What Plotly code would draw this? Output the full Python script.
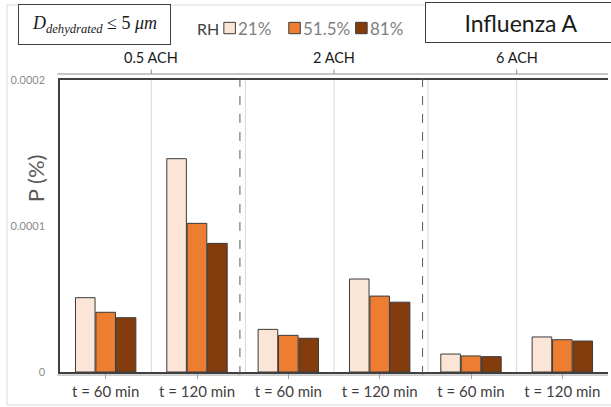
import plotly.graph_objects as go

# ---- data ----
groups = ["0.5 ACH", "2 ACH", "6 ACH"]
times = ["t = 60 min", "t = 120 min"]
categories = [f"{g} | {t}" for g in groups for t in times]
tick_labels = [t for g in groups for t in times]

rh_names = ["21%", "51.5%", "81%"]
rh_colors = ["#FBE5D6", "#ED7D31", "#843C0C"]
p_rh21 = [0.509e-4, 1.461e-4, 0.292e-4, 0.637e-4, 0.123e-4, 0.240e-4]
p_rh515 = [0.409e-4, 1.018e-4, 0.251e-4, 0.520e-4, 0.110e-4, 0.221e-4]
p_rh81 = [0.372e-4, 0.881e-4, 0.231e-4, 0.478e-4, 0.105e-4, 0.212e-4]
series = [p_rh21, p_rh515, p_rh81]

y_ticks = [0, 0.0001, 0.0002]
y_ticktext = ["0", "0.0001", "0.0002"]

FONT = "Lato"
fig = go.Figure()
for name, col, vals in zip(rh_names, rh_colors, series):
    fig.add_trace(go.Bar(
        x=categories, y=vals, name=name,
        marker=dict(color=col, line=dict(color="#3a3a3a", width=1)),
    ))

fig.update_layout(
    width=611, height=407,
    margin=dict(l=60, r=3, t=80, b=35),
    paper_bgcolor="white", plot_bgcolor="white",
    barmode="group", bargap=0.33, bargroupgap=0.04,
    font=dict(family=FONT, color="#404040"),
    showlegend=False,
    xaxis=dict(
        type="category", categoryorder="array", categoryarray=categories,
        tickvals=categories, ticktext=tick_labels,
        tickfont=dict(size=15, color="#404040"),
        showline=True, linecolor="#404040", linewidth=1.5, mirror=True,
        ticks="outside", ticklen=5, tickcolor="#a6a6a6",
        showgrid=False, zeroline=False, automargin=False,
    ),
    yaxis=dict(
        range=[0, 0.0002], tickvals=y_ticks, ticktext=y_ticktext,
        tickfont=dict(size=11, color="#8c8c8c"),
        showline=True, linecolor="#404040", linewidth=1.5,
        ticks="outside", ticklen=11, tickcolor="rgba(0,0,0,0)",
        showgrid=False, zeroline=False, automargin=False,
    ),
)

shapes = []
# light category separators
for xv in [0.5, 1.53, 2.5, 3.53, 4.5]:
    shapes.append(dict(type="line", xref="x", yref="paper", x0=xv, x1=xv, y0=0, y1=1,
                       line=dict(color="#d9d9d9", width=1)))
# dashed ACH separators
for xv in [1.47, 3.47]:
    shapes.append(dict(type="line", xref="x", yref="paper", x0=xv, x1=xv, y0=-0.01, y1=1.02,
                       line=dict(color="#595959", width=1, dash="dash")))
# top bracket line & group ticks
shapes.append(dict(type="line", xref="paper", yref="paper", x0=-0.005, x1=1.0, y0=1.0205, y1=1.0205,
                   line=dict(color="#8c8c8c", width=1)))
for xv in [0.5, 2.5, 4.5]:
    shapes.append(dict(type="line", xref="x", yref="paper", x0=xv, x1=xv, y0=1.0205, y1=1.036,
                       line=dict(color="#8c8c8c", width=1)))
# bottom bracket line
shapes.append(dict(type="line", xref="paper", yref="paper", x0=-0.005, x1=1.0, y0=-0.0105, y1=-0.0105,
                   line=dict(color="#a6a6a6", width=1)))
# outer chart frame
shapes.append(dict(type="rect", xref="paper", yref="paper", x0=-0.0967, x1=1.03, y0=-0.113, y1=1.257,
                   line=dict(color="#d9d9d9", width=1), layer="below"))

# manual legend (RH colour keys)
leg_y = 1.178
key_x = [0.3095, 0.428, 0.55]
for kx, col in zip(key_x, rh_colors):
    shapes.append(dict(type="rect", xref="paper", yref="paper",
                       x0=kx - 0.0105, x1=kx + 0.0105, y0=leg_y - 0.0195, y1=leg_y + 0.0195,
                       fillcolor=col, line=dict(color="#3a3a3a", width=1)))
fig.update_layout(shapes=shapes)

ann = []
ann.append(dict(text="RH", xref="paper", yref="paper", x=0.2464, y=leg_y, showarrow=False,
                font=dict(size=16, color="#404040"), xanchor="left", yanchor="middle"))
for kx, name in zip(key_x, rh_names):
    ann.append(dict(text=name, xref="paper", yref="paper", x=kx + 0.0125, y=leg_y, showarrow=False,
                    font=dict(size=17, color="#7f7f7f"), xanchor="left", yanchor="middle"))
for i, g in enumerate(groups):
    ann.append(dict(text=g, xref="x", yref="paper", x=2 * i + 0.5, y=1.078, showarrow=False,
                    font=dict(size=14.5, color="#1a1a1a"), xanchor="center", yanchor="middle"))
ann.append(dict(text="P (%)", xref="paper", yref="paper", x=-0.045, y=0.665, textangle=-90,
                showarrow=False, font=dict(size=22, color="#595959"), xanchor="center", yanchor="middle"))
ann.append(dict(text="<i>D</i><sub><i>dehydrated</i></sub> ≤ 5 <i>μm</i>", xref="paper", yref="paper",
                x=0.0625, y=1.19, showarrow=False, width=147, height=35, borderpad=2,
                bordercolor="#404040", borderwidth=1, bgcolor="white",
                font=dict(family="Liberation Serif", size=18, color="#1a1a1a"),
                xanchor="center", yanchor="middle"))
ann.append(dict(text="Influenza A", xref="paper", yref="paper",
                x=0.842, y=1.197, showarrow=False, width=186, height=35, borderpad=2,
                bordercolor="#404040", borderwidth=1, bgcolor="white",
                font=dict(family=FONT, size=23, color="#1a1a1a"),
                xanchor="center", yanchor="middle"))
fig.update_layout(annotations=ann)

fig.write_html("out.html", config={"displayModeBar": False},
               post_script="document.body.style.margin='0';")
